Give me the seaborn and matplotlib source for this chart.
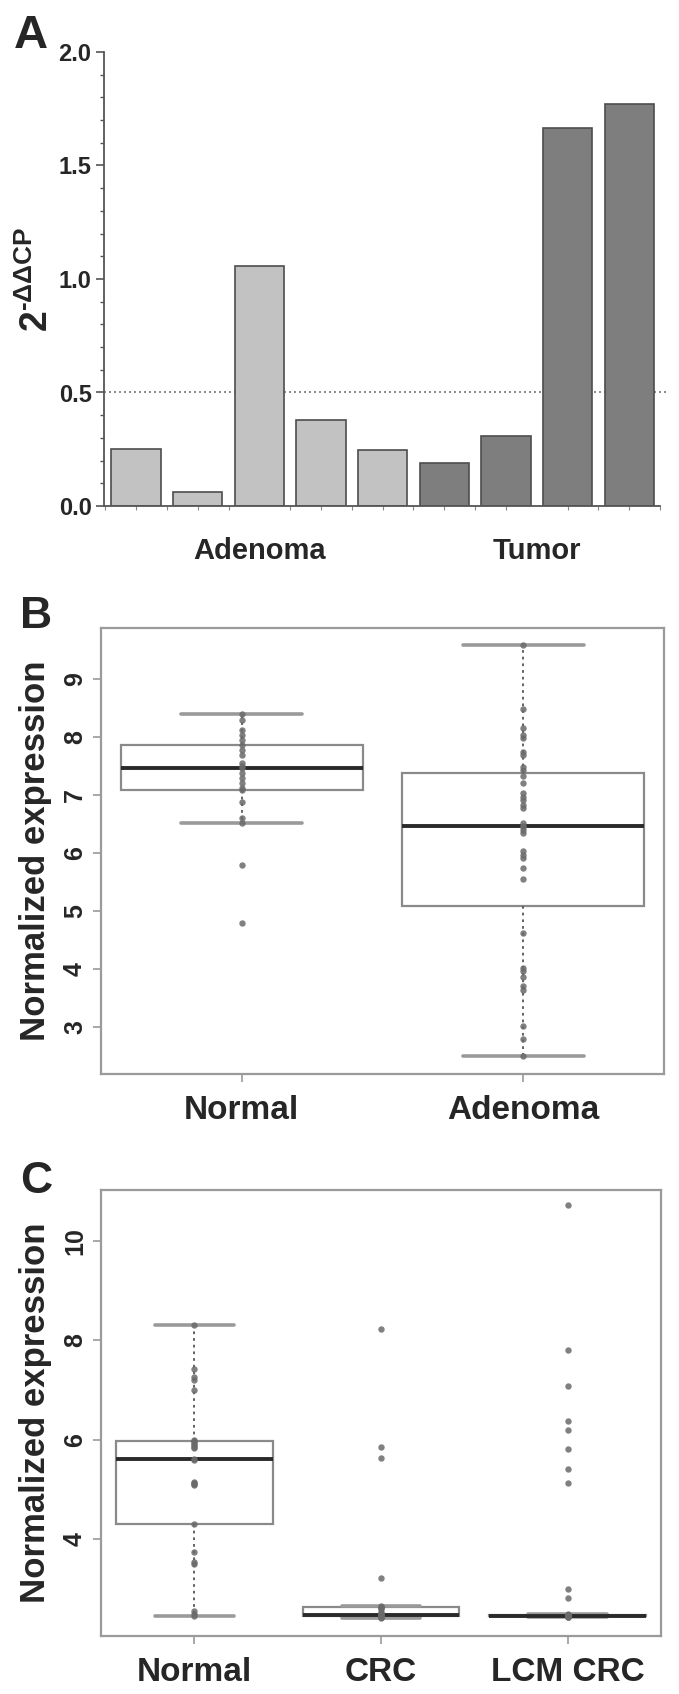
import numpy as np
import pandas as pd
import matplotlib
matplotlib.use("Agg")
import matplotlib.pyplot as plt
import seaborn as sns

# ---------------- data ----------------
# Panel A: qPCR 2^-ddCP per sample
samples_a = ["A1", "A2", "A3", "A4", "A5", "T1", "T2", "T3", "T4"]
groups_a = ["Adenoma"] * 5 + ["Tumor"] * 4
values_a = [0.252, 0.063, 1.057, 0.378, 0.246, 0.189, 0.309, 1.663, 1.773]
group_labels_a = ["Adenoma", "Tumor"]

# Panel B: normalized expression
b_normal = [4.79, 5.80, 6.52, 6.60, 6.88, 7.09, 7.12, 7.20, 7.30, 7.38, 7.46,
            7.50, 7.55, 7.69, 7.78, 7.87, 7.95, 8.04, 8.12, 8.30, 8.39]
b_adenoma = [2.50, 2.79, 3.02, 3.64, 3.70, 3.87, 3.96, 4.02, 4.62,
             5.55, 5.74, 5.91, 5.97, 6.03, 6.34, 6.40, 6.45, 6.46,
             6.51, 6.77, 6.83, 6.92, 6.97, 7.03, 7.20, 7.32, 7.44,
             7.49, 7.69, 7.75, 7.98, 8.04, 8.15, 8.48, 9.58]
b_categories = ["Normal", "Adenoma"]

# Panel C: normalized expression
c_normal = [2.47, 2.50, 2.57, 3.51, 3.54, 3.74, 4.32, 5.10, 5.12, 5.13, 5.15,
            5.60, 5.62, 5.83, 5.86, 5.89, 5.92, 5.95, 5.97, 6.00, 7.00, 7.21,
            7.27, 7.42, 8.30]
c_crc = [2.43, 2.44, 2.44, 2.45, 2.45, 2.45, 2.46, 2.46, 2.47, 2.47, 2.48,
         2.48, 2.49, 2.50, 2.52, 2.55, 2.60, 2.63, 2.64, 2.65, 2.66, 3.22,
         5.63, 5.85, 8.22]
c_lcm = [2.44, 2.45, 2.45, 2.46, 2.46, 2.46, 2.46, 2.46, 2.46, 2.47, 2.47,
         2.47, 2.47, 2.47, 2.47, 2.47, 2.47, 2.47, 2.47, 2.47, 2.47, 2.47,
         2.47, 2.47, 2.47, 2.47, 2.47, 2.47, 2.47, 2.48, 2.48, 2.48, 2.48,
         2.48, 2.48, 2.49, 2.50, 2.83, 3.00, 5.13, 5.42, 5.81, 6.20, 6.38,
         7.08, 7.80, 10.71]
c_categories = ["Normal", "CRC", "LCM CRC"]

# ---------------- style ----------------
sns.set_style("white")
plt.rcParams["font.family"] = ["Liberation Sans", "DejaVu Sans"]
plt.rcParams["mathtext.fontset"] = "custom"
plt.rcParams["mathtext.rm"] = "Liberation Sans"
plt.rcParams["mathtext.bf"] = "Liberation Sans:bold"

W, H = 679, 1694
fig = plt.figure(figsize=(W / 100, H / 100), dpi=100)


def px_axes(left, top, right, bottom):
    return fig.add_axes([left / W, 1 - bottom / H, (right - left) / W, (bottom - top) / H])


# ---------------- Panel A ----------------
axA = px_axes(104, 52, 660, 506)
dfA = pd.DataFrame({"sample": samples_a, "group": groups_a, "value": values_a})
sns.barplot(data=dfA, x="sample", y="value", hue="group", dodge=False,
            palette={"Adenoma": "#c2c2c2", "Tumor": "#7e7e7e"},
            width=0.8, edgecolor="#4d4d4d", linewidth=1.2, legend=False, ax=axA)
axA.set_xlim(-0.52, 8.46)
axA.set_ylim(0, 2.0)
axA.axhline(0.5, xmin=0, xmax=1.017, color="#777777", linestyle=(0, (1.2, 1.8)),
            linewidth=1.2, clip_on=False, zorder=0.5)
for s in ["top", "right"]:
    axA.spines[s].set_visible(False)
for s in ["left", "bottom"]:
    axA.spines[s].set_color("#555555")
    axA.spines[s].set_linewidth(1.3)
axA.set_yticks([0, 0.5, 1.0, 1.5, 2.0], ["0.0", "0.5", "1.0", "1.5", "2.0"])
axA.set_yticks(np.arange(0, 2.01, 0.1), minor=True)
axA.set_xticks([2, 6.5], group_labels_a)
axA.set_xticks(np.arange(-0.5, 8.51, 0.5), minor=True)
axA.tick_params(axis="y", which="major", direction="out", length=6, width=1.2,
                color="#555555", labelsize=17, pad=3, left=True)
axA.tick_params(axis="y", which="minor", direction="out", length=3, width=1.0,
                color="#555555", left=True)
axA.tick_params(axis="x", which="major", length=0, labelsize=21, pad=22)
axA.tick_params(axis="x", which="minor", direction="out", length=3, width=0.8,
                color="#888888", bottom=True)
for t in axA.get_yticklabels() + axA.get_xticklabels():
    t.set_fontweight("bold")
axA.set_xlabel("")
axA.set_ylabel("$\\mathbf{2^{\u2010\\Delta\\Delta CP}}$", fontsize=27, labelpad=2)

fig.text(14 / W, 1 - 14 / H, "A", fontsize=34, fontweight="bold", va="top", ha="left")


# ---------------- box panels ----------------
def box_panel(ax, cats, arrays, ylim, yticks, width):
    df = pd.DataFrame({
        "group": np.concatenate([[c] * len(a) for c, a in zip(cats, arrays)]),
        "value": np.concatenate([np.asarray(a, float) for a in arrays]),
    })
    sns.boxplot(data=df, x="group", y="value", order=cats, width=width,
                color="white", linecolor="#8a8a8a", linewidth=1.6,
                showfliers=False, whis=1.5,
                boxprops=dict(edgecolor="#8a8a8a", linewidth=1.6, facecolor="white"),
                whiskerprops=dict(color="#555555", linestyle=(0, (1.5, 2.2)), linewidth=1.3),
                capprops=dict(color="#9a9a9a", linewidth=2.6),
                medianprops=dict(color="#2a2a2a", linewidth=2.8),
                ax=ax)
    sns.stripplot(data=df, x="group", y="value", order=cats, jitter=False,
                  color="#6a6a6a", size=4.6, alpha=0.85, linewidth=0, ax=ax, zorder=3)
    ax.set_xlim(-0.5, len(cats) - 0.5)
    ax.set_ylim(*ylim)
    for s in ax.spines.values():
        s.set_visible(True)
        s.set_color("#9a9a9a")
        s.set_linewidth(1.6)
    ax.set_yticks(yticks, [str(v) for v in yticks])
    ax.tick_params(axis="y", direction="out", length=6, width=1.2, color="#9a9a9a",
                   labelsize=18, labelrotation=90, pad=4, left=True)
    ax.tick_params(axis="x", direction="out", length=6, width=1.2, color="#9a9a9a",
                   labelsize=24, pad=9, bottom=True)
    for t in ax.get_yticklabels():
        t.set_fontweight("bold")
        t.set_va("center")
    for t in ax.get_xticklabels():
        t.set_fontweight("bold")
    ax.set_xlabel("")
    ax.set_ylabel("Normalized expression", fontsize=25, fontweight="bold", labelpad=8)


axB = px_axes(101, 628, 664, 1074)
box_panel(axB, b_categories, [b_normal, b_adenoma], (2.19, 9.88),
          [3, 4, 5, 6, 7, 8, 9], 0.86)
fig.text(20 / W, 1 - 596 / H, "B", fontsize=32, fontweight="bold", va="top", ha="left")

axC = px_axes(101, 1190, 661, 1636)
box_panel(axC, c_categories, [c_normal, c_crc, c_lcm], (2.06, 11.02),
          [4, 6, 8, 10], 0.84)
fig.text(20 / W, 1 - 1161 / H, "C", fontsize=32, fontweight="bold", va="top", ha="left")

fig.savefig("out.png", dpi=100, facecolor="white")
